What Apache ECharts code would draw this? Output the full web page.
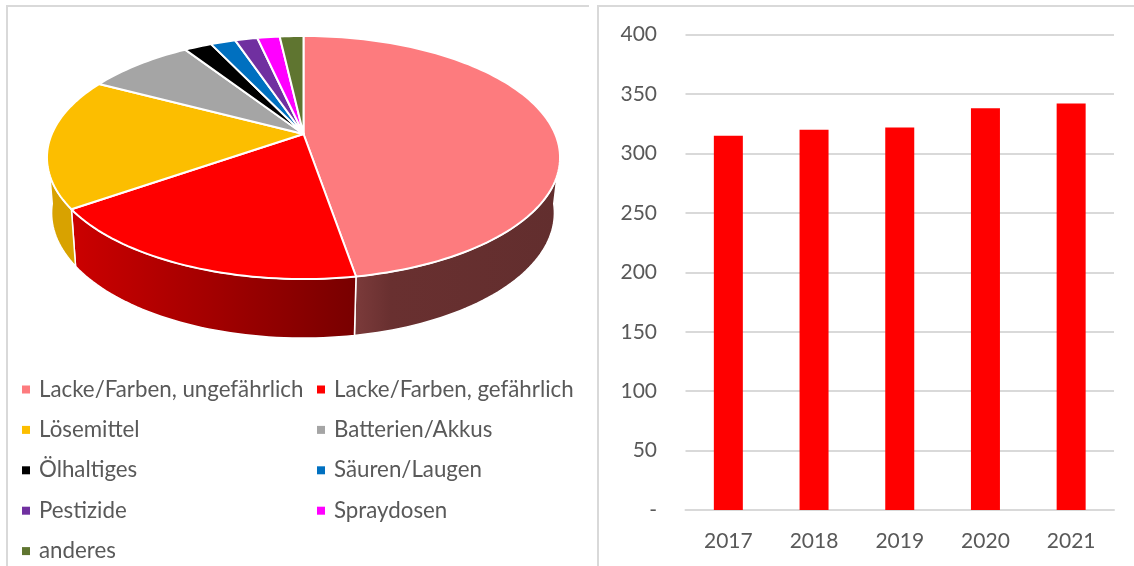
<!DOCTYPE html>
<html>
<head>
<meta charset="utf-8">
<title>Abfallmengen</title>
<script src="https://cdn.jsdelivr.net/npm/echarts@6/dist/echarts.min.js"></script>
<style>
html, body { margin: 0; padding: 0; background: #fff; }
#main { width: 1134px; height: 566px; }
</style>
</head>
<body>
<div id="main"></div>
<script type="text/javascript">
// Anteile in Prozent, im Uhrzeigersinn ab 12 Uhr
const pieNames = ['Lacke/Farben, ungefährlich', 'Lacke/Farben, gefährlich', 'Lösemittel', 'Batterien/Akkus', 'Ölhaltiges', 'Säuren/Laugen', 'Pestizide', 'Spraydosen', 'anderes']
const pieShares = [47.3, 18.0, 17.4, 8.1, 2.1, 1.9, 1.7, 1.7, 1.8]
const pieColors = ['#fd7b7e', '#ff0000', '#fcbe00', '#a5a5a5', '#000000', '#0070c0', '#7030a0', '#ff00ff', '#5f7530']
const years = ['2017', '2018', '2019', '2020', '2021']
const totals = [315, 320, 322, 338, 342]
const yTicks = { min: 0, max: 400, interval: 50 }

const textColor = '#595959'
const lineColor = '#d9d9d9'
const fontFamily = 'Lato'

// Perspektive der Torte: Spitze sitzt oberhalb der Ellipsenmitte
const disc = { cx: 303.5, lowerCx: 303, apexY: 134, midY: 157.5, a: 251.7, b: 117, k: -0.1934, shrinkX: 0.98, shrinkY: 1.03, depth: 55.4 }
const visible = { from: 109.6, to: 250.4, lowerFrom: 97, lowerTo: 263 }

function rim(deg) {
    let t = deg * Math.PI / 180
    let u = Math.sin(t), v = -Math.cos(t)
    let w = 1 + disc.k * v
    return [disc.cx + disc.a * u / w, disc.apexY + disc.b * v / w]
}

function lowerRim(deg) {
    let p = rim(deg)
    return [disc.lowerCx + disc.shrinkX * (p[0] - disc.cx), disc.midY + disc.shrinkY * (p[1] - disc.midY) + disc.depth]
}

function arc(fn, from, to) {
    let pts = []
    let steps = Math.max(2, Math.ceil(Math.abs(to - from) / 1.5))
    for (let s = 0; s <= steps; s++) {
        pts.push(fn(from + (to - from) * s / steps))
    }
    return pts
}

function sideFill(index) {
    if (index === 0) {
        return new echarts.graphic.LinearGradient(0, 0, 1, 0, [
            { offset: 0, color: '#7c3b3b' }, { offset: 0.18, color: '#693030' }, { offset: 1, color: '#622e2e' }
        ])
    }
    if (index === 1) {
        return new echarts.graphic.LinearGradient(0, 0, 1, 0, [
            { offset: 0, color: '#cc0000' }, { offset: 1, color: '#780000' }
        ])
    }
    return '#d8a200'
}

function sliceRenderer(index) {
    return function (params, api) {
        let total = pieShares.reduce((sum, v) => sum + v, 0)
        let before = pieShares.slice(0, index).reduce((sum, v) => sum + v, 0)
        let from = before / total * 360
        let to = from + api.value(0) / total * 360
        let children = []
        let a = Math.max(from, visible.from), b = Math.min(to, visible.to)
        if (a < b) {
            let lowerA = a === visible.from ? visible.lowerFrom : a
            let lowerB = b === visible.to ? visible.lowerTo : b
            children.push({
                type: 'polygon',
                shape: { points: arc(rim, a, b).concat(arc(lowerRim, lowerB, lowerA)) },
                style: { fill: sideFill(index), stroke: '#fff', lineWidth: 1.5, lineJoin: 'round' },
                z2: 1
            })
        }
        children.push({
            type: 'polygon',
            shape: { points: [[disc.cx, disc.apexY]].concat(arc(rim, from, to)) },
            style: { fill: pieColors[index], stroke: '#fff', lineWidth: 2, lineJoin: 'round' },
            z2: 2
        })
        return { type: 'group', children: children }
    }
}

let series = pieNames.map(function (name, i) {
    return {
        type: 'custom',
        name: name,
        coordinateSystem: 'none',
        silent: true,
        itemStyle: { color: pieColors[i] },
        renderItem: sliceRenderer(i),
        data: [[pieShares[i]]]
    }
})

series.push({
    type: 'bar',
    name: 'Menge',
    barWidth: 29,
    itemStyle: { color: '#ff0000' },
    data: totals
})

function legendPart(left, names) {
    return {
        orient: 'vertical',
        left: left,
        top: 378.5,
        padding: 0,
        icon: 'rect',
        itemWidth: 8,
        itemHeight: 8,
        itemGap: 18.4,
        selectedMode: false,
        textStyle: { color: textColor, fontFamily: fontFamily, fontSize: 22.3, lineHeight: 22, padding: [0, 0, 0, 4] },
        data: names
    }
}

let option = {
    animation: false,
    backgroundColor: '#fff',
    legend: [
        legendPart(22, pieNames.filter((n, i) => i % 2 === 0)),
        legendPart(317, pieNames.filter((n, i) => i % 2 === 1))
    ],
    grid: { left: 685.5, right: 20, top: 34.7, bottom: 56, containLabel: false },
    xAxis: {
        type: 'category',
        data: years,
        axisLine: { lineStyle: { color: lineColor, width: 2 } },
        axisTick: { show: false },
        axisLabel: { color: textColor, fontFamily: fontFamily, fontSize: 21, margin: 21 }
    },
    yAxis: {
        type: 'value',
        min: yTicks.min,
        max: yTicks.max,
        interval: yTicks.interval,
        axisLine: { show: false },
        axisTick: { show: false },
        splitLine: { lineStyle: { color: lineColor, width: 2 } },
        axisLabel: {
            color: textColor, fontFamily: fontFamily, fontSize: 21, margin: 28.5,
            formatter: function (value) { return value === 0 ? '-' : String(value) }
        }
    },
    series: series,
    graphic: [
        { type: 'polyline', silent: true, shape: { points: [[7, 566], [7, 6], [589, 6]] }, style: { fill: null, stroke: lineColor, lineWidth: 2 } },
        { type: 'polyline', silent: true, shape: { points: [[598, 566], [598, 6], [1134, 6]] }, style: { fill: null, stroke: lineColor, lineWidth: 2 } }
    ]
}

let myChart = echarts.init(document.getElementById('main'), null, { renderer: 'canvas' })
myChart.setOption(option)
</script>
</body>
</html>
